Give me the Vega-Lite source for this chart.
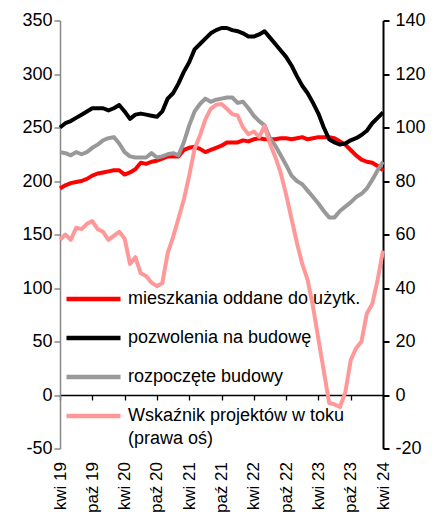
{
  "$schema": "https://vega.github.io/schema/vega-lite/v6.json",
  "width": 323,
  "height": 428,
  "autosize": {"type": "none"},
  "padding": {"left": 60, "top": 20.5, "right": 55, "bottom": 66.5},
  "background": "white",
  "config": {
    "view": {"stroke": null},
    "font": "Liberation Sans",
    "axis": {"grid": false, "labelFont": "Liberation Sans", "labelFontSize": 18, "labelColor": "#000000"},
    "style": {"guide-label": {"lineHeight": 23}}
  },
  "data": {
    "values": [
      {"miesiac": "2019-04", "oddane": 193, "pozwolenia": 250, "rozpoczete": 227, "wskaznik": 58},
      {"miesiac": "2019-05", "oddane": 196, "pozwolenia": 254, "rozpoczete": 226, "wskaznik": 60},
      {"miesiac": "2019-06", "oddane": 198, "pozwolenia": 256, "rozpoczete": 224, "wskaznik": 58},
      {"miesiac": "2019-07", "oddane": 199, "pozwolenia": 259, "rozpoczete": 227, "wskaznik": 62.5},
      {"miesiac": "2019-08", "oddane": 200, "pozwolenia": 262, "rozpoczete": 225, "wskaznik": 62},
      {"miesiac": "2019-09", "oddane": 202, "pozwolenia": 265, "rozpoczete": 227, "wskaznik": 64},
      {"miesiac": "2019-10", "oddane": 205, "pozwolenia": 268, "rozpoczete": 231, "wskaznik": 65},
      {"miesiac": "2019-11", "oddane": 207, "pozwolenia": 268, "rozpoczete": 234, "wskaznik": 62},
      {"miesiac": "2019-12", "oddane": 208, "pozwolenia": 268, "rozpoczete": 238, "wskaznik": 61},
      {"miesiac": "2020-01", "oddane": 209, "pozwolenia": 266, "rozpoczete": 240, "wskaznik": 58},
      {"miesiac": "2020-02", "oddane": 210, "pozwolenia": 268, "rozpoczete": 241, "wskaznik": 59.5},
      {"miesiac": "2020-03", "oddane": 210, "pozwolenia": 271, "rozpoczete": 235, "wskaznik": 61},
      {"miesiac": "2020-04", "oddane": 206, "pozwolenia": 265, "rozpoczete": 227, "wskaznik": 58.5},
      {"miesiac": "2020-05", "oddane": 208, "pozwolenia": 258, "rozpoczete": 223, "wskaznik": 49},
      {"miesiac": "2020-06", "oddane": 211, "pozwolenia": 262, "rozpoczete": 222, "wskaznik": 51.5},
      {"miesiac": "2020-07", "oddane": 217, "pozwolenia": 263, "rozpoczete": 222, "wskaznik": 45.5},
      {"miesiac": "2020-08", "oddane": 216, "pozwolenia": 262, "rozpoczete": 222, "wskaznik": 44.5},
      {"miesiac": "2020-09", "oddane": 218, "pozwolenia": 261, "rozpoczete": 226, "wskaznik": 42},
      {"miesiac": "2020-10", "oddane": 219, "pozwolenia": 260, "rozpoczete": 222, "wskaznik": 40.7},
      {"miesiac": "2020-11", "oddane": 221, "pozwolenia": 265, "rozpoczete": 223, "wskaznik": 41.8},
      {"miesiac": "2020-12", "oddane": 223, "pozwolenia": 277, "rozpoczete": 225, "wskaznik": 53},
      {"miesiac": "2021-01", "oddane": 223, "pozwolenia": 282, "rozpoczete": 226, "wskaznik": 59},
      {"miesiac": "2021-02", "oddane": 223, "pozwolenia": 291, "rozpoczete": 224, "wskaznik": 66},
      {"miesiac": "2021-03", "oddane": 229, "pozwolenia": 302, "rozpoczete": 236, "wskaznik": 73},
      {"miesiac": "2021-04", "oddane": 231, "pozwolenia": 311, "rozpoczete": 252, "wskaznik": 82},
      {"miesiac": "2021-05", "oddane": 232, "pozwolenia": 323, "rozpoczete": 265, "wskaznik": 92},
      {"miesiac": "2021-06", "oddane": 230, "pozwolenia": 328, "rozpoczete": 272, "wskaznik": 97},
      {"miesiac": "2021-07", "oddane": 227, "pozwolenia": 333, "rozpoczete": 277, "wskaznik": 103},
      {"miesiac": "2021-08", "oddane": 229, "pozwolenia": 338, "rozpoczete": 274, "wskaznik": 107},
      {"miesiac": "2021-09", "oddane": 231, "pozwolenia": 341, "rozpoczete": 276, "wskaznik": 108.5},
      {"miesiac": "2021-10", "oddane": 233, "pozwolenia": 343, "rozpoczete": 277, "wskaznik": 108.8},
      {"miesiac": "2021-11", "oddane": 236, "pozwolenia": 343, "rozpoczete": 278, "wskaznik": 107},
      {"miesiac": "2021-12", "oddane": 236, "pozwolenia": 341, "rozpoczete": 278, "wskaznik": 105},
      {"miesiac": "2022-01", "oddane": 236, "pozwolenia": 340, "rozpoczete": 273, "wskaznik": 104.5},
      {"miesiac": "2022-02", "oddane": 238, "pozwolenia": 338, "rozpoczete": 274, "wskaznik": 100},
      {"miesiac": "2022-03", "oddane": 237, "pozwolenia": 335, "rozpoczete": 268, "wskaznik": 97.5},
      {"miesiac": "2022-04", "oddane": 239, "pozwolenia": 335, "rozpoczete": 261, "wskaznik": 98.5},
      {"miesiac": "2022-05", "oddane": 240, "pozwolenia": 337, "rozpoczete": 256, "wskaznik": 96.5},
      {"miesiac": "2022-06", "oddane": 239, "pozwolenia": 340, "rozpoczete": 252, "wskaznik": 100.5},
      {"miesiac": "2022-07", "oddane": 239, "pozwolenia": 334, "rozpoczete": 240, "wskaznik": 94},
      {"miesiac": "2022-08", "oddane": 239, "pozwolenia": 328, "rozpoczete": 233, "wskaznik": 89},
      {"miesiac": "2022-09", "oddane": 240, "pozwolenia": 322, "rozpoczete": 224, "wskaznik": 83},
      {"miesiac": "2022-10", "oddane": 240, "pozwolenia": 316, "rozpoczete": 215, "wskaznik": 75},
      {"miesiac": "2022-11", "oddane": 239, "pozwolenia": 308, "rozpoczete": 205, "wskaznik": 66},
      {"miesiac": "2022-12", "oddane": 240, "pozwolenia": 298, "rozpoczete": 200, "wskaznik": 57},
      {"miesiac": "2023-01", "oddane": 241, "pozwolenia": 289, "rozpoczete": 197, "wskaznik": 49},
      {"miesiac": "2023-02", "oddane": 239, "pozwolenia": 282, "rozpoczete": 191, "wskaznik": 43},
      {"miesiac": "2023-03", "oddane": 240, "pozwolenia": 273, "rozpoczete": 185, "wskaznik": 33},
      {"miesiac": "2023-04", "oddane": 241, "pozwolenia": 263, "rozpoczete": 179, "wskaznik": 21},
      {"miesiac": "2023-05", "oddane": 241, "pozwolenia": 250, "rozpoczete": 172, "wskaznik": 9},
      {"miesiac": "2023-06", "oddane": 241, "pozwolenia": 239, "rozpoczete": 166, "wskaznik": -3},
      {"miesiac": "2023-07", "oddane": 240, "pozwolenia": 236, "rozpoczete": 166, "wskaznik": -3.5},
      {"miesiac": "2023-08", "oddane": 237, "pozwolenia": 234, "rozpoczete": 172, "wskaznik": -4.5},
      {"miesiac": "2023-09", "oddane": 234, "pozwolenia": 235, "rozpoczete": 176, "wskaznik": 1},
      {"miesiac": "2023-10", "oddane": 229, "pozwolenia": 238, "rozpoczete": 180, "wskaznik": 13},
      {"miesiac": "2023-11", "oddane": 224, "pozwolenia": 240, "rozpoczete": 185, "wskaznik": 17.5},
      {"miesiac": "2023-12", "oddane": 220, "pozwolenia": 243, "rozpoczete": 188, "wskaznik": 20},
      {"miesiac": "2024-01", "oddane": 218, "pozwolenia": 247, "rozpoczete": 193, "wskaznik": 30.5},
      {"miesiac": "2024-02", "oddane": 217, "pozwolenia": 254, "rozpoczete": 201, "wskaznik": 34},
      {"miesiac": "2024-03", "oddane": 214, "pozwolenia": 259, "rozpoczete": 210, "wskaznik": 43},
      {"miesiac": "2024-04", "oddane": 210, "pozwolenia": 264, "rozpoczete": 218, "wskaznik": 54}
    ]
  },
  "layer": [
    {
      "transform": [{"fold": ["oddane", "pozwolenia", "rozpoczete"], "as": ["seria", "wartosc"]}],
      "mark": {"type": "line", "strokeWidth": 4, "strokeJoin": "round"},
      "encoding": {
        "x": {
          "field": "miesiac", "type": "ordinal",
          "scale": {"type": "point", "padding": 0},
          "axis": {
            "orient": "bottom",
            "values": ["2019-04", "2019-10", "2020-04", "2020-10", "2021-04", "2021-10", "2022-04", "2022-10", "2023-04", "2023-10", "2024-04"],
            "labelExpr": "(slice(datum.value, 5) == '04' ? 'kwi ' : 'paź ') + slice(datum.value, 2, 4)",
            "labelAngle": -90, "labelFontSize": 17, "domain": false, "ticks": false, "labelPadding": 13, "title": null
          }
        },
        "y": {
          "field": "wartosc", "type": "quantitative",
          "scale": {"domain": [-50, 350], "nice": false, "zero": false},
          "axis": {
            "values": [-50, 0, 50, 100, 150, 200, 250, 300, 350],
            "labelExpr": "'' + datum.value",
            "title": null, "domainColor": "#888888", "domainWidth": 1.5,
            "tickColor": "#888888", "tickWidth": 1.5, "tickSize": 6, "labelPadding": 2
          }
        },
        "color": {
          "field": "seria", "type": "nominal",
          "scale": {"domain": ["oddane", "pozwolenia", "rozpoczete", "wskaznik"], "range": ["#FF0000", "#000000", "#999999", "#FF9999"]},
          "legend": {
            "title": null, "orient": "none", "legendX": 4, "legendY": 249,
            "symbolType": "stroke", "symbolSize": 2916, "symbolStrokeWidth": 4.5,
            "labelFont": "Liberation Sans", "labelFontSize": 18, "labelColor": "#000000",
            "labelOffset": 5, "rowPadding": -2, "labelLimit": 400,
            "labelExpr": "datum.value == 'oddane' ? 'mieszkania oddane do użytk.' : datum.value == 'pozwolenia' ? 'pozwolenia na budowę' : datum.value == 'rozpoczete' ? 'rozpoczęte budowy' : ['Wskaźnik projektów w toku', '(prawa oś)']"
          }
        }
      }
    },
    {
      "mark": {"type": "line", "strokeWidth": 4, "strokeJoin": "round"},
      "encoding": {
        "x": {
          "field": "miesiac", "type": "ordinal",
          "axis": {
            "orient": "bottom",
            "values": ["2019-04", "2019-10", "2020-04", "2020-10", "2021-04", "2021-10", "2022-04", "2022-10", "2023-04", "2023-10", "2024-04"],
            "labels": false, "offset": -53.5, "domainColor": "#000000", "domainWidth": 1.3,
            "tickColor": "#000000", "tickWidth": 1.3, "tickSize": 5, "title": null
          }
        },
        "y": {
          "field": "wskaznik", "type": "quantitative",
          "scale": {"domain": [-20, 140], "nice": false, "zero": false},
          "axis": {
            "orient": "right", "values": [-20, 0, 20, 40, 60, 80, 100, 120, 140],
            "labelExpr": "'' + datum.value",
            "title": null, "domainColor": "#000000", "domainWidth": 2,
            "tickColor": "#000000", "tickWidth": 2, "tickSize": 6, "labelPadding": 6
          }
        },
        "color": {"datum": "wskaznik"}
      }
    }
  ],
  "resolve": {"scale": {"y": "independent"}, "axis": {"x": "independent"}}
}
